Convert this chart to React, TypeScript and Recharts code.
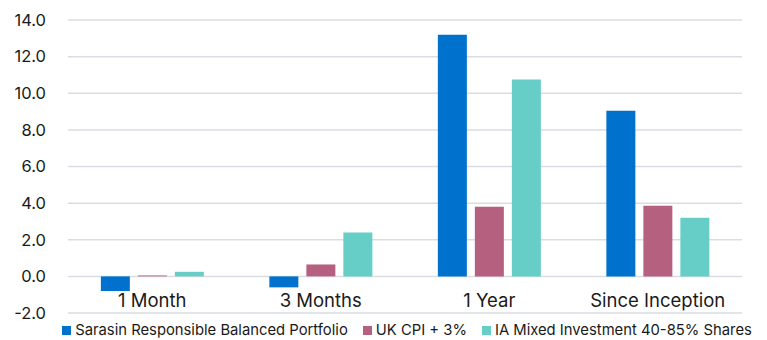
import { Bar, BarChart, CartesianGrid, Legend, XAxis, YAxis } from "recharts";

const periods = ["1 Month", "3 Months", "1 Year", "Since Inception"];
const sarasin = [-0.8, -0.6, 13.2, 9.05];
const ukCpi = [0.05, 0.65, 3.8, 3.85];
const iaMixed = [0.25, 2.4, 10.75, 3.2];
const yTicks = [-2, 0, 2, 4, 6, 8, 10, 12, 14];

const seriesNames = ["Sarasin Responsible Balanced Portfolio", "UK CPI + 3%", "IA Mixed Investment 40-85% Shares"];
const seriesColors = ["#0072ce", "#b6607f", "#66cdc7"];

const data = periods.map((p, i) => ({
  period: p,
  sarasin: sarasin[i],
  ukCpi: ukCpi[i],
  iaMixed: iaMixed[i],
}));

const font = "Inter, 'Noto Sans', sans-serif";

const CategoryTick = (props: any) => {
  const { x, y, payload } = props;
  return (
    <text x={x} y={y - 19} textAnchor="middle" fill="#1a1a1a" fontSize={18.5} fontFamily={font} dominantBaseline="middle">
      {payload.value}
    </text>
  );
};

const LegendContent = () => (
  <div style={{ display: "flex", justifyContent: "center", gap: 15, fontFamily: font, fontSize: 14.8, color: "#1a1a1a", lineHeight: "19px" }}>
    {seriesNames.map((n, i) => (
      <div key={n} style={{ display: "flex", alignItems: "center" }}>
        <span style={{ width: 9, height: 9, background: seriesColors[i], marginRight: 4, display: "inline-block" }} />
        <span>{n}</span>
      </div>
    ))}
  </div>
);

const App = () => {
  return (
    <div style={{ margin: "-8px 0 0 -8px", width: 767, height: 340 }}>
      <BarChart
        width={767}
        height={340}
        data={data}
        margin={{ top: 20, right: 25, left: 0, bottom: 0 }}
        barCategoryGap="19.5%"
        barGap={8}
      >
        <CartesianGrid vertical={false} stroke="#d9dde3" strokeWidth={1.5} />
        <XAxis dataKey="period" axisLine={false} tickLine={false} tick={<CategoryTick />} height={8} interval={0} />
        <YAxis
          domain={[-2, 14]}
          ticks={yTicks}
          axisLine={false}
          tickLine={false}
          width={68}
          tickMargin={16}
          tickFormatter={(v: number) => v.toFixed(1)}
          tick={{ fill: "#1a1a1a", fontSize: 16.5, fontFamily: font }}
        />
        <Legend height={19} content={<LegendContent />} wrapperStyle={{ left: 36, width: 742 }} />
        <Bar dataKey="sarasin" name={seriesNames[0]} fill={seriesColors[0]} isAnimationActive={false} />
        <Bar dataKey="ukCpi" name={seriesNames[1]} fill={seriesColors[1]} isAnimationActive={false} />
        <Bar dataKey="iaMixed" name={seriesNames[2]} fill={seriesColors[2]} isAnimationActive={false} />
      </BarChart>
    </div>
  );
};

export default App;
